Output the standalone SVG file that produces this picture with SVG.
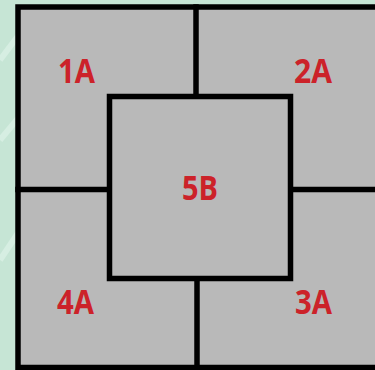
<svg xmlns="http://www.w3.org/2000/svg" width="375" height="370" viewBox="0 0 375 370">
<style>
.room{fill:#b9b9b9}
.wall{stroke:#000;stroke-width:5.5;fill:none;stroke-linecap:square}
.lbl{font-family:"Open Sans","Noto Sans",sans-serif;font-weight:700;font-size:34px;fill:#cc2229;text-anchor:middle}
</style>
<rect x="0" y="0" width="375" height="370" fill="#c6e5d5"/>
<path d="M0 60 L30 20 M0 140 L25 110 M0 260 L20 230" stroke="#d6eee2" stroke-width="6" fill="none"/>
<rect class="room" x="18" y="7" width="360" height="361"/>
<g id="connectors">
<path class="wall" d="M378 7 H18 V367.5 H378"/>
<line class="wall" x1="196" y1="7" x2="196" y2="96.5"/>
<line class="wall" x1="18" y1="189.5" x2="109.5" y2="189.5"/>
<line class="wall" x1="290.5" y1="189.5" x2="378" y2="189.5"/>
<line class="wall" x1="197" y1="278.5" x2="197" y2="367.5"/>
</g>
<g id="n1A"><text class="lbl" x="76.5" y="83" textLength="37" lengthAdjust="spacingAndGlyphs">1A</text></g>
<g id="n2A"><text class="lbl" x="313" y="83" textLength="38" lengthAdjust="spacingAndGlyphs">2A</text></g>
<g id="n4A"><text class="lbl" x="75.5" y="314" textLength="37" lengthAdjust="spacingAndGlyphs">4A</text></g>
<g id="n3A"><text class="lbl" x="313.5" y="314" textLength="37" lengthAdjust="spacingAndGlyphs">3A</text></g>
<g id="n5B">
<rect class="room wall" x="109.5" y="96.5" width="181" height="182" style="fill:#b9b9b9"/>
<text class="lbl" x="200" y="200" textLength="36" lengthAdjust="spacingAndGlyphs">5B</text>
</g>
</svg>
